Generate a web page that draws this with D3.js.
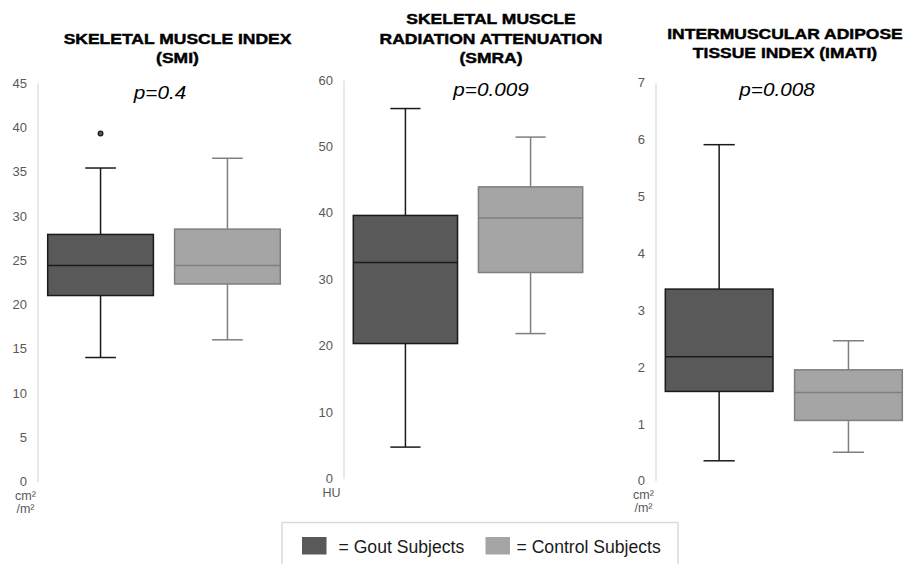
<!DOCTYPE html>
<html>
<head>
<meta charset="utf-8">
<script src="https://cdn.jsdelivr.net/npm/d3@7/dist/d3.min.js"></script>
<style>
  html, body { margin: 0; padding: 0; background: #fff; }
  svg { display: block; font-family: "Liberation Sans", Arial, Helvetica, sans-serif; }
</style>
</head>
<body>
<svg id="chart" width="906" height="564"></svg>
<script>
// ---------------- DATA ----------------
const groups = ["Gout Subjects", "Control Subjects"];
const panelTitles = [
  ["SKELETAL MUSCLE INDEX", "(SMI)"],
  ["SKELETAL MUSCLE", "RADIATION ATTENUATION", "(SMRA)"],
  ["INTERMUSCULAR ADIPOSE", "TISSUE INDEX (IMATI)"]
];
const pValues = ["p=0.4", "p=0.009", "p=0.008"];
const unitLabels = [["cm\u00B2", "/m\u00B2"], ["HU"], ["cm\u00B2", "/m\u00B2"]];
const yMaxima = [45, 60, 7];
const yTickSteps = [5, 10, 1];

// box stats: [min whisker, Q1, median, Q3, max whisker]
const smiGout    = [14.0, 21.0, 24.4, 27.9, 35.4];
const smiControl = [16.0, 22.3, 24.4, 28.5, 36.5];
const smiOutliers = [[39.3], []];

const smraGout    = [4.7, 20.3, 32.5, 39.6, 55.7];
const smraControl = [21.8, 31.0, 39.2, 43.9, 51.4];
const smraOutliers = [[], []];

const imatiGout    = [0.35, 1.57, 2.18, 3.37, 5.91];
const imatiControl = [0.50, 1.06, 1.55, 1.95, 2.46];
const imatiOutliers = [[], []];

const panelData = [
  [smiGout, smiControl, smiOutliers],
  [smraGout, smraControl, smraOutliers],
  [imatiGout, imatiControl, imatiOutliers]
];

// ---------------- LAYOUT / STYLE ----------------
const layout = [
  { axisX: 37.5,  xr: [47.7, 280.3],  yr: [481.5, 83.0], titleY: 43.5, pX: 160, pY: 98.5, titleX: 177.5 },
  { axisX: 343.5, xr: [353.3, 582.7], yr: [478.3, 80.0], titleY: 24.0, pX: 491, pY: 95.5, titleX: 491 },
  { axisX: 655.5, xr: [665.3, 902.3], yr: [480.7, 82.7], titleY: 38.5, pX: 777, pY: 96.0, titleX: 785 }
];
const fills = ["#595959", "#a5a5a5"];
const strokes = ["#1a1a1a", "#7f7f7f"];

const svg = d3.select("#chart");

panelData.forEach((pd, i) => {
  const L = layout[i];
  const g = svg.append("g");

  const x = d3.scaleBand().domain(groups).range(L.xr).paddingInner(0.167).paddingOuter(0);
  const y = d3.scaleLinear().domain([0, yMaxima[i]]).range(L.yr);

  // Y axis
  const ticks = d3.range(0, yMaxima[i] + yTickSteps[i] / 2, yTickSteps[i]);
  const axis = d3.axisLeft(y).tickValues(ticks).tickSize(0).tickPadding(10.5).tickFormat(d3.format("d"));
  const ag = g.append("g").attr("transform", `translate(${L.axisX},0)`).call(axis);
  ag.select(".domain").attr("stroke", "#d9d9d9").attr("stroke-width", 1.2);
  ag.selectAll(".tick text").attr("fill", "#595959").style("font-size", "13px")
    .style("font-family", '"Liberation Sans", Arial, sans-serif');

  // unit label
  unitLabels[i].forEach((u, k) => {
    g.append("text")
      .attr("x", L.axisX - 12)
      .attr("y", y(0) + 18.5 + k * 12.5)
      .attr("text-anchor", "middle")
      .attr("fill", "#595959")
      .style("font-size", "12.5px")
      .text(u);
  });

  // title
  panelTitles[i].forEach((t, k) => {
    g.append("text")
      .attr("transform", `translate(${L.titleX},${L.titleY + k * 19.5}) scale(1.13,1)`)
      .attr("text-anchor", "middle")
      .attr("fill", "#000")
      .attr("stroke", "#000")
      .attr("stroke-width", 0.45)
      .style("font-size", "15.5px")
      .style("font-weight", "bold")
      .text(t);
  });

  // p-value
  g.append("text")
    .attr("transform", `translate(${L.pX},${L.pY}) scale(1.15,1)`)
    .attr("text-anchor", "middle")
    .attr("fill", "#000")
    .style("font-size", "18px")
    .style("font-style", "italic")
    .text(pValues[i]);

  // boxes
  [pd[0], pd[1]].forEach((s, j) => {
    const grp = groups[j];
    const x0 = x(grp), bw = x.bandwidth(), cx = x0 + bw / 2, capW = bw * 0.29;
    const [mn, q1, med, q3, mx] = s;
    const bg = g.append("g").attr("stroke", strokes[j]).attr("stroke-width", 1.5);
    // whiskers
    bg.append("line").attr("x1", cx).attr("x2", cx).attr("y1", y(q3)).attr("y2", y(mx));
    bg.append("line").attr("x1", cx).attr("x2", cx).attr("y1", y(q1)).attr("y2", y(mn));
    bg.append("line").attr("x1", cx - capW / 2).attr("x2", cx + capW / 2).attr("y1", y(mx)).attr("y2", y(mx));
    bg.append("line").attr("x1", cx - capW / 2).attr("x2", cx + capW / 2).attr("y1", y(mn)).attr("y2", y(mn));
    // box
    bg.append("rect").attr("x", x0).attr("width", bw)
      .attr("y", y(q3)).attr("height", y(q1) - y(q3))
      .attr("fill", fills[j]);
    // median
    bg.append("line").attr("x1", x0).attr("x2", x0 + bw).attr("y1", y(med)).attr("y2", y(med));
    // outliers
    pd[2][j].forEach(o => {
      bg.append("circle").attr("cx", cx).attr("cy", y(o)).attr("r", 2.3)
        .attr("fill", fills[j]).attr("stroke-width", 1.3);
    });
  });
});

// ---------------- LEGEND ----------------
const lg = svg.append("g");
lg.append("rect").attr("x", 282).attr("y", 522.5).attr("width", 396).attr("height", 60)
  .attr("fill", "#fff").attr("stroke", "#d9d9d9").attr("stroke-width", 1.5);
const legendItems = [
  { sx: 302, tx: 338.5 },
  { sx: 485.5, tx: 516.5 }
];
groups.forEach((grp, j) => {
  lg.append("rect").attr("x", legendItems[j].sx).attr("y", 537).attr("width", 24.5).attr("height", 17.5)
    .attr("fill", fills[j]);
  lg.append("text").attr("x", legendItems[j].tx).attr("y", 552.5)
    .attr("fill", "#1a1a1a").style("font-size", "17.6px")
    .text("= " + grp);
});
</script>
</body>
</html>
